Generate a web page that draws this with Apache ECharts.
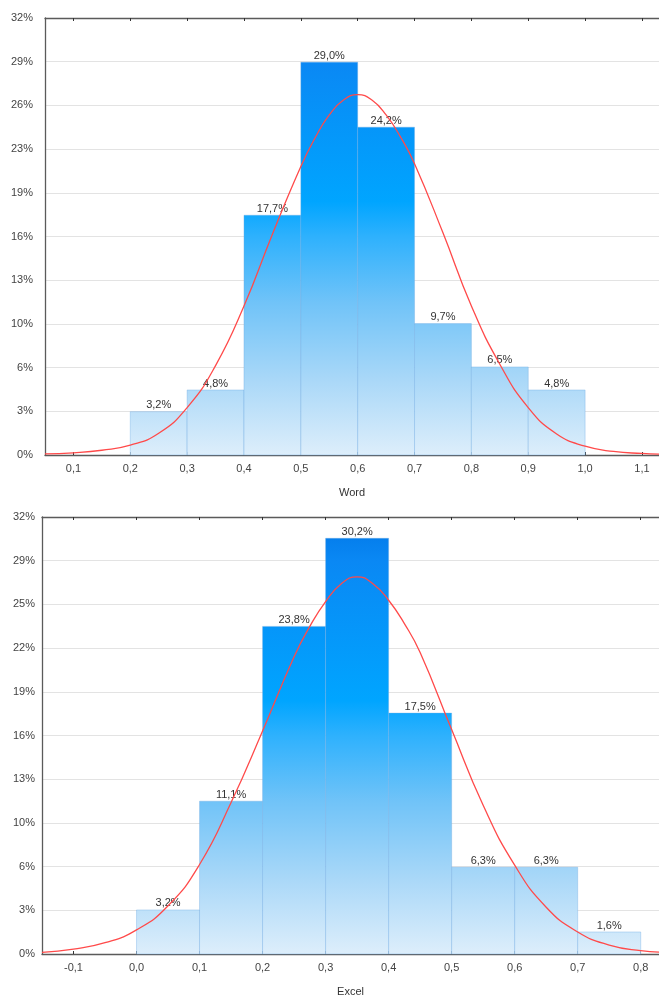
<!DOCTYPE html>
<html>
<head>
<meta charset="utf-8">
<script src="https://cdn.jsdelivr.net/npm/echarts@6/dist/echarts.min.js"></script>
<style>
html,body{margin:0;padding:0;background:#fff;}
#chart{width:659px;height:998px;}
</style>
</head>
<body>
<div id="chart"></div>
<script>
// ---- data ----
const binWidth = 0.1;

const wordBinStart = [0.2, 0.3, 0.4, 0.5, 0.6, 0.7, 0.8, 0.9];
const wordPct = [3.2, 4.8, 17.7, 29.0, 24.2, 9.7, 6.5, 4.8];
const wordCurveX = [0.05, 0.10, 0.15, 0.20, 0.25, 0.30, 0.35, 0.40, 0.45, 0.50, 0.525, 0.55, 0.575, 0.60, 0.625, 0.65, 0.675, 0.70, 0.75, 0.80, 0.85, 0.90, 0.95, 1.00, 1.05, 1.10, 1.15];
const wordCurveY = [0.08, 0.16, 0.35, 0.72, 1.6, 3.5, 6.6, 11.0, 16.3, 21.3, 23.4, 25.1, 26.2, 26.6, 26.2, 25.1, 23.5, 21.5, 16.4, 11.0, 6.7, 3.5, 1.55, 0.65, 0.26, 0.12, 0.05];
const wordXTicks = [0.1, 0.2, 0.3, 0.4, 0.5, 0.6, 0.7, 0.8, 0.9, 1.0, 1.1];
const wordYTicks = ['0%', '3%', '6%', '10%', '13%', '16%', '19%', '23%', '26%', '29%', '32%'];
const wordYMax = 100 * 20 / 62;

const excelBinStart = [0.0, 0.1, 0.2, 0.3, 0.4, 0.5, 0.6, 0.7];
const excelPct = [3.2, 11.1, 23.8, 30.2, 17.5, 6.3, 6.3, 1.6];
const excelCurveX = [-0.15, -0.10, -0.05, 0.00, 0.05, 0.10, 0.15, 0.20, 0.25, 0.275, 0.30, 0.325, 0.35, 0.375, 0.40, 0.425, 0.45, 0.50, 0.55, 0.60, 0.65, 0.70, 0.75, 0.80, 0.85];
const excelCurveY = [0.12, 0.35, 0.82, 1.75, 3.5, 6.5, 11.0, 16.2, 21.6, 23.8, 25.6, 26.9, 27.4, 26.9, 25.7, 24.0, 21.9, 16.3, 10.8, 6.45, 3.4, 1.6, 0.65, 0.25, 0.1];
const excelXTicks = [-0.1, 0.0, 0.1, 0.2, 0.3, 0.4, 0.5, 0.6, 0.7, 0.8];
const excelYTicks = ['0%', '3%', '6%', '10%', '13%', '16%', '19%', '22%', '25%', '29%', '32%'];
const excelYMax = 100 * 20 / 63;

// ---- helpers ----
const FONT = '"Liberation Sans", Arial, sans-serif';
const fmtPct = v => v.toFixed(1).replace('.', ',') + '%';
const fmtX = v => (Math.abs(v) < 1e-9 ? 0 : v).toFixed(1).replace('.', ',');

const gradStops = [
  {offset: 0, color: '#0076e6'},
  {offset: 0.1, color: '#0a88f4'},
  {offset: 0.42, color: '#00a5ff'},
  {offset: 0.5, color: '#2eb1fd'},
  {offset: 0.65, color: '#70c3f8'},
  {offset: 0.83, color: '#aad8f8'},
  {offset: 1, color: '#ddeefb'}
];

function renderHist(params, api) {
  const x0 = api.value(0), x1 = api.value(1), v = api.value(2);
  const p0 = api.coord([x0, v]);
  const p1 = api.coord([x1, 0]);
  const cs = params.coordSys;
  const grad = new echarts.graphic.LinearGradient(0, cs.y, 0, cs.y + cs.height, gradStops, true);
  return {
    type: 'group',
    children: [
      {
        type: 'rect',
        shape: {x: p0[0], y: p0[1], width: p1[0] - p0[0], height: p1[1] - p0[1]},
        style: {fill: grad, stroke: 'rgba(110,170,225,0.55)', lineWidth: 0.7}
      },
      {
        type: 'text',
        x: (p0[0] + p1[0]) / 2,
        y: p0[1] - 1,
        style: {text: fmtPct(v), textAlign: 'center', textVerticalAlign: 'bottom', fill: '#333', font: '11px ' + FONT}
      }
    ]
  };
}

function histData(starts, vals) {
  return starts.map((s, i) => [s, s + binWidth, vals[i]]);
}
function curveData(xs, ys) {
  return xs.map((x, i) => [x, ys[i]]);
}

const axisLineStyle = {color: '#5a5a5a', width: 1.3};
const labelStyle = {color: '#444', fontSize: 11, fontFamily: FONT};

function xAxes(gridIndex, min, max, ticks, name) {
  return [
    {
      type: 'value', gridIndex, min, max, position: 'bottom',
      name, nameLocation: 'middle', nameGap: 32,
      nameTextStyle: {color: '#333', fontSize: 11, fontFamily: FONT},
      axisLine: {show: true, onZero: false, lineStyle: axisLineStyle},
      axisTick: {show: true, inside: true, length: 3, customValues: ticks, lineStyle: {color: '#333'}},
      axisLabel: {show: true, customValues: ticks, formatter: fmtX, margin: 8, ...labelStyle},
      splitLine: {show: false}
    },
    {
      type: 'value', gridIndex, min, max, position: 'top',
      axisLine: {show: true, onZero: false, lineStyle: axisLineStyle},
      axisTick: {show: true, inside: true, length: 3, customValues: ticks, lineStyle: {color: '#333'}},
      axisLabel: {show: false, customValues: ticks},
      splitLine: {show: false}
    }
  ];
}

function yAxis(gridIndex, max, labels, margin) {
  return {
    type: 'value', gridIndex, min: 0, max, interval: max / 10,
    axisLine: {show: true, onZero: false, lineStyle: axisLineStyle},
    axisTick: {show: false},
    axisLabel: {
      margin,
      formatter: (v, i) => labels[i] !== undefined ? labels[i] : Math.round(v) + '%',
      ...labelStyle
    },
    splitLine: {show: true, lineStyle: {color: '#e3e3e3', width: 1}}
  };
}

const curveSeries = (xi, yi, data) => ({
  type: 'line', xAxisIndex: xi, yAxisIndex: yi, data,
  smooth: 0.5, showSymbol: false, clip: true, z: 3,
  lineStyle: {color: '#ff4a4a', width: 1.3}
});

const chart = echarts.init(document.getElementById('chart'), null, {renderer: 'canvas'});
chart.setOption({
  animation: false,
  backgroundColor: '#fff',
  grid: [
    {left: 45, top: 18, width: 614, height: 437},
    {left: 42, top: 517, width: 617, height: 443}
  ],
  xAxis: [
    ...xAxes(0, 0.05, 1.13, wordXTicks, 'Word'),
    ...xAxes(1, -0.15, 0.829, excelXTicks, 'Excel')
  ],
  yAxis: [
    yAxis(0, wordYMax, wordYTicks, 12),
    yAxis(1, excelYMax, excelYTicks, 7)
  ],
  series: [
    {
      type: 'custom', xAxisIndex: 0, yAxisIndex: 0,
      renderItem: renderHist, data: histData(wordBinStart, wordPct), z: 2
    },
    curveSeries(0, 0, curveData(wordCurveX, wordCurveY)),
    {
      type: 'custom', xAxisIndex: 2, yAxisIndex: 1,
      renderItem: renderHist, data: histData(excelBinStart, excelPct), z: 2
    },
    curveSeries(2, 1, curveData(excelCurveX, excelCurveY))
  ]
});
</script>
</body>
</html>
